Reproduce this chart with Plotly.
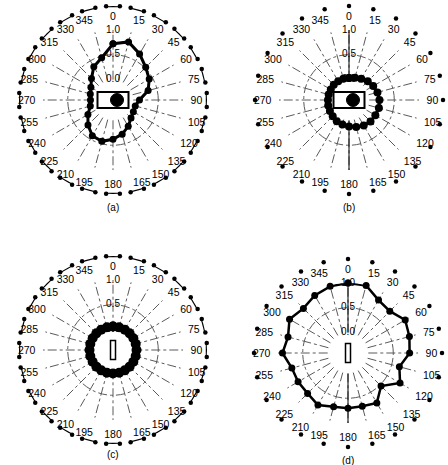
import plotly.graph_objects as go

W, H = 448, 465

# Measurement directions (degrees, clockwise from top)
theta_deg = list(range(0, 360, 15))
angle_labels = [str(t) for t in theta_deg]
radial_ticks = [0.0, 0.5, 1.0]
radial_tick_text = ["0.0", "0.5", "1.0"]

# Normalised response per direction for each configuration
r_a = [0.72, 0.80, 0.66, 0.52, 0.43, 0.32, 0.12, 0.05, 0.06, 0.10, 0.20, 0.30,
       0.38, 0.45, 0.42, 0.30, 0.17, 0.06, 0.04, 0.06, 0.10, 0.20, 0.36, 0.47]
r_b = [0.03, 0.05, 0.08, 0.12, 0.15, 0.18, 0.20, 0.21, 0.20, 0.20, 0.18, 0.15,
       0.12, 0.10, 0.08, 0.05, 0.03, 0.02, 0.01, 0.01, 0.01, 0.02, 0.02, 0.03]
r_c = [0.06, 0.06, 0.06, 0.06, 0.06, 0.06, 0.06, 0.06, 0.06, 0.06, 0.06, 0.06,
       0.06, 0.06, 0.06, 0.06, 0.06, 0.06, 0.06, 0.06, 0.06, 0.06, 0.06, 0.06]
r_d = [1.00, 1.00, 0.82, 0.78, 0.92, 0.87, 0.83, 0.66, 0.80, 0.53, 0.75, 0.70,
       0.70, 0.71, 0.80, 0.74, 0.75, 0.76, 0.91, 0.84, 0.95, 0.86, 0.93, 0.98]
panel_names = ["(a)", "(b)", "(c)", "(d)"]

# Outer reference ring: dumbbells (a, c) or single dots (b, d)
ring_r = 1.0            # on the outer (ring) polar axis
dumbbell_half = 4.2
ring_style = ["dumbbell", "dot", "dumbbell", "dot"]
vertical_axis = [False, True, False, True]
icon_kind = ["wide", "wide", "slim", "slim"]

# Layout geometry (pixels)
centers = [(113, 100), (349, 100), (113, 350), (348, 353)]
label_y = [207, 207, 454, 460]
R = 70          # radius of the 1.0 circle
R_RING = 94     # radius of the outer ring
HOLE = 0.29
FONT = "Liberation Sans, Arial, sans-serif"
GRID = "#5a5a5a"

marker_size = [7, 8, 10, 7]
line_width = [3, 3, 5, 2.5]

series = [r_a, r_b, r_c, r_d]

fig = go.Figure()
layout_polars = {}
shapes = []
annotations = []


def domain_for(cx, cy, rad):
    return dict(x=[(cx - rad) / W, (cx + rad) / W],
                y=[1 - (cy + rad) / H, 1 - (cy - rad) / H])


hidden_axis = dict(showgrid=False, showticklabels=False, ticks="", showline=False)

for i, (r_vals, (cx, cy)) in enumerate(zip(series, centers)):
    sub = "polar" if i == 0 else f"polar{i + 1}"
    ring_sub = f"polar{i + 5}"

    # Outer ring axis (no visible grid), shares the centre of the main axis
    layout_polars[ring_sub] = dict(
        domain=domain_for(cx, cy, R_RING),
        bgcolor="rgba(0,0,0,0)",
        angularaxis=dict(direction="clockwise", rotation=90, **hidden_axis),
        radialaxis=dict(range=[0, 1.0], **hidden_axis),
    )

    layout_polars[sub] = dict(
        domain=domain_for(cx, cy, R),
        hole=HOLE,
        bgcolor="rgba(0,0,0,0)",
        angularaxis=dict(
            direction="clockwise", rotation=90,
            tickmode="array", tickvals=theta_deg, ticktext=angle_labels,
            ticks="outside", ticklen=5, tickcolor="rgba(0,0,0,0)", showline=False,
            showgrid=True, gridcolor=GRID, gridwidth=0.7, griddash="dashdot",
            tickfont=dict(size=10.5, color="black", family=FONT),
        ),
        radialaxis=dict(
            range=[-0.005, 1.0], tickmode="array", tickvals=radial_ticks,
            showticklabels=False, ticks="", showline=False, angle=90,
            showgrid=True, gridcolor=GRID, gridwidth=0.7, griddash="dashdot",
        ),
    )

    # Solid reference line along 0/180 degrees
    if vertical_axis[i]:
        fig.add_trace(go.Scatterpolar(
            r=[0, 1, None, 0, 1], theta=[0, 0, None, 180, 180],
            mode="lines", line=dict(color="black", width=1),
            subplot=sub, showlegend=False, hoverinfo="skip"))

    # Radial tick labels drawn on the 0-degree spoke
    fig.add_trace(go.Scatterpolar(
        r=radial_ticks, theta=[0] * len(radial_ticks), text=radial_tick_text,
        mode="text", textfont=dict(size=10, color="black", family=FONT),
        subplot=sub, showlegend=False, hoverinfo="skip", cliponaxis=False))

    # Outer ring
    if ring_style[i] == "dumbbell":
        for t in theta_deg:
            fig.add_trace(go.Scatterpolar(
                r=[ring_r, ring_r], theta=[t - dumbbell_half, t + dumbbell_half],
                mode="lines+markers",
                line=dict(color="black", width=2),
                marker=dict(color="black", size=4.5),
                subplot=ring_sub, showlegend=False, cliponaxis=False,
                hoverinfo="skip"))
    else:
        fig.add_trace(go.Scatterpolar(
            r=[ring_r] * len(theta_deg), theta=theta_deg, mode="markers",
            marker=dict(color="black", size=4.5),
            subplot=ring_sub, showlegend=False, cliponaxis=False, hoverinfo="skip"))

    # Measured pattern (closed)
    fig.add_trace(go.Scatterpolar(
        r=r_vals + r_vals[:1], theta=theta_deg + theta_deg[:1],
        mode="lines+markers",
        line=dict(color="black", width=line_width[i]),
        marker=dict(color="black", size=marker_size[i]),
        subplot=sub, showlegend=False, cliponaxis=False))

    # Element icon in the centre
    if icon_kind[i] == "wide":
        hw, hh = 15.5, 8
        shapes.append(dict(type="rect", xref="paper", yref="paper",
                           x0=(cx - hw) / W, x1=(cx + hw) / W,
                           y0=1 - (cy + hh) / H, y1=1 - (cy - hh) / H,
                           line=dict(color="black", width=2), fillcolor="white"))
        cr = 6.5
        ox = 4
        shapes.append(dict(type="circle", xref="paper", yref="paper",
                           x0=(cx + ox - cr) / W, x1=(cx + ox + cr) / W,
                           y0=1 - (cy + cr) / H, y1=1 - (cy - cr) / H,
                           line=dict(color="black", width=1), fillcolor="black"))
    else:
        hw, hh = 2.5, 9.5
        shapes.append(dict(type="rect", xref="paper", yref="paper",
                           x0=(cx - hw) / W, x1=(cx + hw) / W,
                           y0=1 - (cy + hh) / H, y1=1 - (cy - hh) / H,
                           line=dict(color="black", width=1.5), fillcolor="white"))

    annotations.append(dict(text=panel_names[i], xref="paper", yref="paper",
                            x=cx / W, y=1 - label_y[i] / H, showarrow=False,
                            xanchor="center", yanchor="middle",
                            font=dict(size=10, color="black", family=FONT)))

fig.update_layout(
    width=W, height=H,
    margin=dict(l=0, r=0, t=0, b=0),
    paper_bgcolor="white", plot_bgcolor="white",
    showlegend=False,
    shapes=shapes, annotations=annotations,
    **layout_polars,
)

fig.write_html("out.html")
